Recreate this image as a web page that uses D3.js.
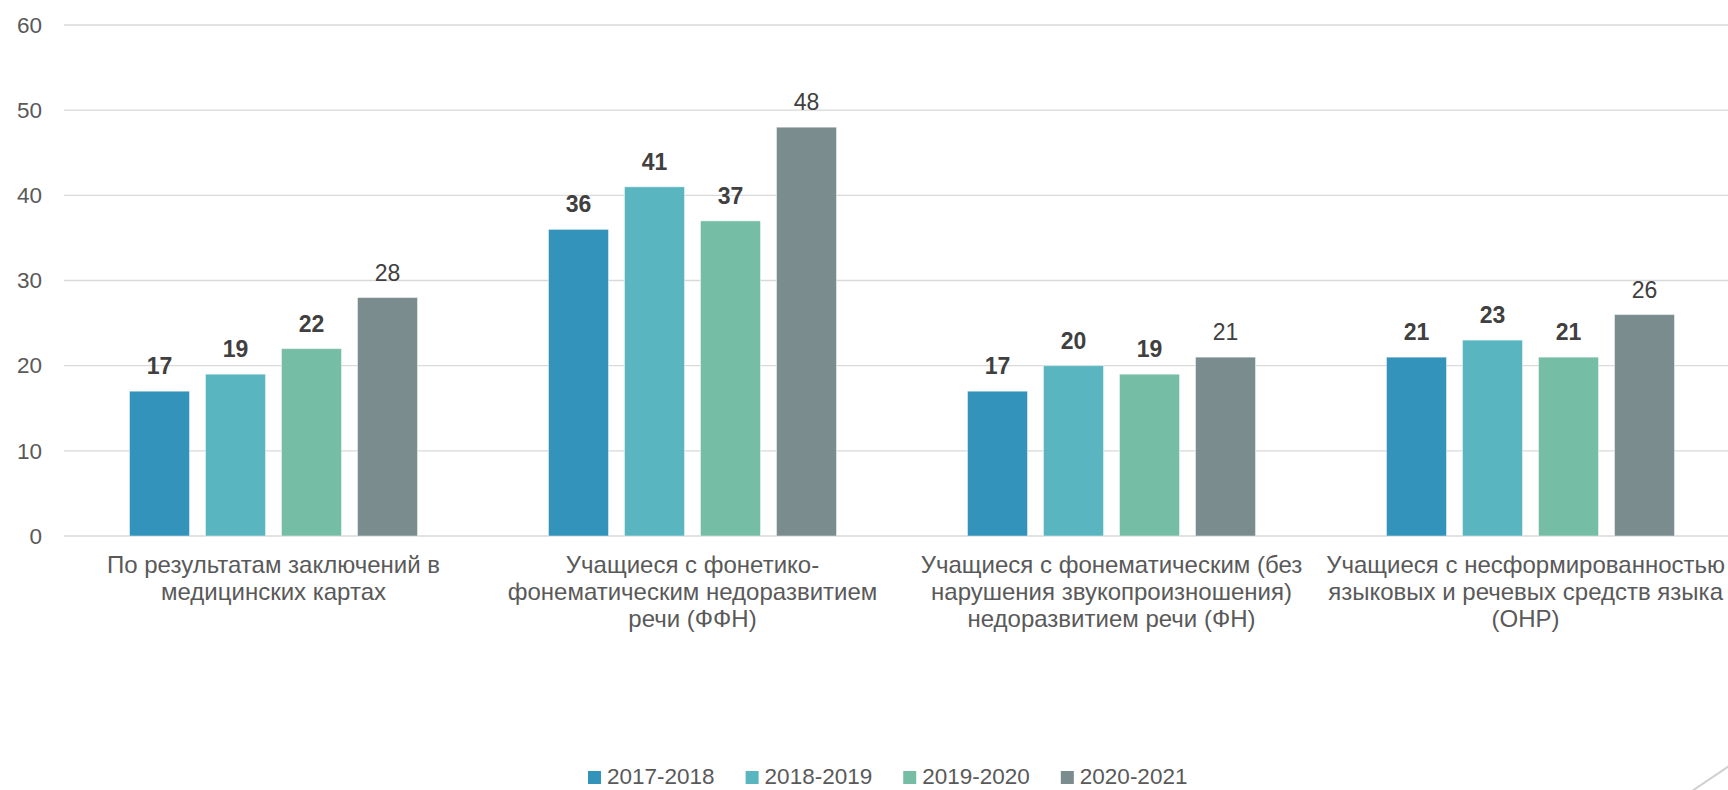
<!DOCTYPE html>
<html>
<head>
<meta charset="utf-8">
<script src="https://cdn.jsdelivr.net/npm/d3@7"></script>
<style>
  body { margin: 0; background: #fff; overflow: hidden; }
  text { font-family: "Liberation Sans", Arial, sans-serif; }
</style>
</head>
<body>
<svg id="chart"></svg>
<script>
// Data
const categories = [
  ["По результатам заключений в", "медицинских картах"],
  ["Учащиеся с фонетико-", "фонематическим недоразвитием", "речи (ФФН)"],
  ["Учащиеся с фонематическим (без", "нарушения звукопроизношения)", "недоразвитием речи (ФН)"],
  ["Учащиеся с несформированностью", "языковых и речевых средств языка", "(ОНР)"]
];
const seriesNames = ["2017-2018", "2018-2019", "2019-2020", "2020-2021"];
const values2017 = [17, 36, 17, 21];
const values2018 = [19, 41, 20, 23];
const values2019 = [22, 37, 19, 21];
const values2020 = [28, 48, 21, 26];
const yTicks = [0, 10, 20, 30, 40, 50, 60];

const colors = ["#3493BA", "#59B5C0", "#76BDA6", "#7A8C8E"];
const seriesValues = [values2017, values2018, values2019, values2020];

// Size
const width = 1728, height = 790;
const plot = { left: 64, right: 1740, top: 25, bottom: 536 };

const svg = d3.select("#chart")
  .attr("width", width)
  .attr("height", height);

// Scales
const x0 = d3.scaleBand()
  .domain(d3.range(categories.length))
  .range([plot.left, plot.right]);

const groupW = 288; // bars + gaps inside one category
const x1 = d3.scaleBand()
  .domain(d3.range(seriesNames.length))
  .range([(x0.bandwidth() - groupW) / 2, (x0.bandwidth() + groupW) / 2])
  .paddingInner(16 / 76);

const y = d3.scaleLinear()
  .domain([0, 60])
  .range([plot.bottom, plot.top]);

// Gridlines
svg.append("g")
  .selectAll("line")
  .data(yTicks)
  .join("line")
  .attr("x1", plot.left)
  .attr("x2", width)
  .attr("y1", d => y(d))
  .attr("y2", d => y(d))
  .attr("stroke", "#d9d9d9")
  .attr("stroke-width", 1.3);

// Y axis labels
const yAxis = d3.axisLeft(y).tickValues(yTicks).tickSize(0).tickPadding(0);
svg.append("g")
  .attr("transform", "translate(42,0)")
  .call(yAxis)
  .call(g => g.select(".domain").remove())
  .selectAll("text")
  .attr("font-size", 22.5)
  .attr("fill", "#595959")
  .attr("font-family", "Liberation Sans, Arial, sans-serif");

// Bars
const rows = [];
categories.forEach((c, ci) => {
  seriesValues.forEach((vals, si) => rows.push({ ci, si, v: vals[ci] }));
});

const groups = svg.append("g");

groups.selectAll("rect")
  .data(rows)
  .join("rect")
  .attr("x", d => x0(d.ci) + x1(d.si))
  .attr("y", d => y(d.v))
  .attr("width", x1.bandwidth())
  .attr("height", d => y(0) - y(d.v))
  .attr("fill", d => colors[d.si])
  .attr("stroke", "#ffffff")
  .attr("stroke-opacity", 0.45)
  .attr("stroke-width", 1);

// Value labels
groups.selectAll("text.val")
  .data(rows)
  .join("text")
  .attr("class", "val")
  .attr("x", d => x0(d.ci) + x1(d.si) + x1.bandwidth() / 2)
  .attr("y", d => y(d.v) - 17)
  .attr("text-anchor", "middle")
  .attr("font-size", 23)
  .attr("font-weight", d => d.si < 3 ? "bold" : "normal")
  .attr("fill", "#404040")
  .text(d => d.v);

// Category labels
const cat = svg.append("g")
  .selectAll("text")
  .data(categories)
  .join("text")
  .attr("x", (d, i) => x0(i) + x0.bandwidth() / 2)
  .attr("y", 573)
  .attr("text-anchor", "middle")
  .attr("font-size", 24)
  .attr("fill", "#595959");

cat.selectAll("tspan")
  .data(d => d)
  .join("tspan")
  .attr("dy", (d, i) => i === 0 ? 0 : 27)
  .text(d => d);

// keep the last label inside the page (the plot runs past the right edge)
cat.each(function () {
  const t = d3.select(this);
  let cx = +t.attr("x");
  const w = d3.max(t.selectAll("tspan").nodes(), n => n.getComputedTextLength());
  if (cx + w / 2 > width - 3) cx = width - 3 - w / 2;
  t.attr("x", cx);
  t.selectAll("tspan").attr("x", cx);
});

// Legend
const legend = svg.append("g").attr("transform", "translate(588,0)");
let lx = 0;
seriesNames.forEach((name, i) => {
  const item = legend.append("g").attr("transform", `translate(${lx},0)`);
  item.append("rect")
    .attr("x", 0)
    .attr("y", 771)
    .attr("width", 13)
    .attr("height", 13)
    .attr("fill", colors[i]);
  const t = item.append("text")
    .attr("x", 19)
    .attr("y", 784)
    .attr("font-size", 22.5)
    .attr("fill", "#595959")
    .text(name);
  lx += 19 + t.node().getComputedTextLength() + 31;
});

// Slide decoration in the corner
svg.append("line")
  .attr("x1", 1689)
  .attr("y1", 793)
  .attr("x2", 1732)
  .attr("y2", 764)
  .attr("stroke", "#d0d0d0")
  .attr("stroke-width", 2);
</script>
</body>
</html>
